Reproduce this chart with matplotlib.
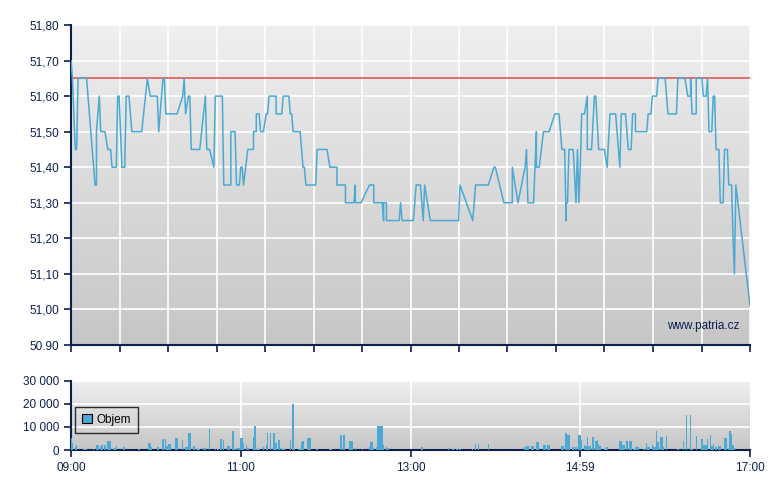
import matplotlib
matplotlib.use('Agg')
import matplotlib.pyplot as plt
import numpy as np
from matplotlib.colors import LinearSegmentedColormap

plt.rcParams['font.family'] = ['Liberation Sans', 'DejaVu Sans']

# ## Data: minutes after 09:00
price_t = [0, 1, 3, 4, 5, 11, 17, 18, 18, 20,
           21, 24, 26, 28, 29, 32, 33, 34, 36, 38,
           39, 41, 43, 50, 54, 56, 61, 62, 65, 66,
           67, 75, 79, 80, 81, 83, 84, 85, 91, 95,
           96, 98, 101, 102, 107, 108, 113, 113, 116, 117,
           119, 120, 121, 122, 125, 129, 129, 131, 131, 133,
           134, 136, 138, 139, 140, 145, 145, 149, 150, 154,
           155, 156, 157, 162, 164, 165, 166, 173, 174, 181,
           183, 188, 188, 194, 194, 200, 201, 201, 205, 211,
           214, 214, 220, 221, 221, 223, 223, 232, 233, 234,
           242, 244, 247, 249, 250, 254, 274, 275, 284, 286,
           295, 299, 300, 306, 312, 312, 316, 321, 322, 323,
           327, 329, 329, 331, 334, 338, 342, 345, 347, 349,
           350, 350, 351, 352, 355, 357, 358, 359, 360, 361,
           363, 365, 365, 368, 370, 371, 373, 377, 379, 381,
           385, 388, 389, 392, 394, 396, 397, 399, 399, 407,
           408, 410, 411, 414, 415, 420, 422, 428, 429, 434,
           436, 438, 438, 439, 442, 442, 446, 447, 449, 450,
           451, 453, 454, 455, 456, 458, 459, 461, 462, 464,
           465, 467, 468, 469, 470, 480]
price = [51.70, 51.65, 51.45, 51.45, 51.65, 51.65, 51.35, 51.35, 51.50, 51.60,
         51.50, 51.50, 51.45, 51.45, 51.40, 51.40, 51.60, 51.60, 51.40, 51.40,
         51.60, 51.60, 51.50, 51.50, 51.65, 51.60, 51.60, 51.50, 51.65, 51.65,
         51.55, 51.55, 51.60, 51.65, 51.55, 51.60, 51.60, 51.45, 51.45, 51.60,
         51.45, 51.45, 51.40, 51.60, 51.60, 51.35, 51.35, 51.50, 51.50, 51.35,
         51.35, 51.40, 51.40, 51.35, 51.45, 51.45, 51.50, 51.50, 51.55, 51.55,
         51.50, 51.50, 51.55, 51.55, 51.60, 51.60, 51.55, 51.55, 51.60, 51.60,
         51.55, 51.55, 51.50, 51.50, 51.40, 51.40, 51.35, 51.35, 51.45, 51.45,
         51.40, 51.40, 51.35, 51.35, 51.30, 51.30, 51.35, 51.30, 51.30, 51.35,
         51.35, 51.30, 51.30, 51.25, 51.30, 51.30, 51.25, 51.25, 51.30, 51.25,
         51.25, 51.35, 51.35, 51.25, 51.35, 51.25, 51.25, 51.35, 51.25, 51.35,
         51.35, 51.40, 51.40, 51.30, 51.30, 51.40, 51.30, 51.40, 51.45, 51.30,
         51.30, 51.50, 51.40, 51.40, 51.50, 51.50, 51.55, 51.55, 51.45, 51.45,
         51.25, 51.30, 51.30, 51.45, 51.45, 51.30, 51.45, 51.30, 51.40, 51.55,
         51.55, 51.60, 51.45, 51.45, 51.60, 51.60, 51.45, 51.45, 51.40, 51.55,
         51.55, 51.40, 51.55, 51.55, 51.45, 51.45, 51.55, 51.55, 51.50, 51.50,
         51.55, 51.55, 51.60, 51.60, 51.65, 51.65, 51.55, 51.55, 51.65, 51.65,
         51.60, 51.60, 51.65, 51.55, 51.55, 51.65, 51.65, 51.60, 51.60, 51.65,
         51.50, 51.50, 51.60, 51.60, 51.45, 51.45, 51.30, 51.30, 51.45, 51.45,
         51.35, 51.35, 51.20, 51.10, 51.35, 51.01]
prev_close = 51.65

vol_t = [0, 1, 3, 4, 9, 10, 11, 16, 18, 19,
         21, 22, 24, 26, 27, 28, 30, 31, 32, 37,
         38, 48, 55, 56, 57, 61, 62, 65, 67, 68,
         69, 70, 74, 75, 79, 81, 82, 83, 84, 87,
         89, 90, 91, 94, 95, 98, 102, 104, 106, 108,
         111, 112, 114, 115, 116, 118, 119, 120, 121, 122,
         124, 125, 129, 130, 131, 132, 133, 136, 138, 139,
         141, 143, 144, 145, 147, 149, 150, 151, 155, 157,
         158, 161, 162, 163, 164, 167, 168, 169, 174, 183,
         184, 191, 193, 197, 198, 199, 201, 206, 211, 212,
         213, 214, 216, 217, 218, 219, 220, 221, 223, 224,
         248, 267, 270, 273, 275, 284, 286, 288, 295, 321,
         322, 323, 326, 327, 329, 330, 334, 335, 337, 338,
         347, 348, 350, 351, 352, 355, 357, 359, 360, 361,
         363, 364, 365, 366, 367, 369, 371, 372, 373, 374,
         377, 378, 379, 388, 389, 390, 391, 393, 395, 396,
         398, 399, 400, 401, 405, 407, 408, 409, 411, 412,
         413, 414, 415, 417, 418, 419, 421, 429, 433, 435,
         438, 439, 442, 446, 447, 448, 449, 450, 452, 453,
         454, 456, 458, 459, 462, 463, 465, 466, 467, 468,
         469]
vol = [5000, 3200, 1100, 2200, 400, 400, 400, 400, 2200, 2200,
       1100, 2200, 2200, 3900, 3900, 3900, 400, 900, 1700, 1200,
       1200, 400, 3200, 2600, 1200, 1200, 1200, 4800, 4800, 1900,
       2600, 2600, 5200, 5200, 4300, 1200, 1200, 7400, 7400, 1600,
       400, 400, 400, 900, 900, 9100, 400, 400, 4800, 4300,
       1700, 1700, 8200, 8200, 400, 900, 900, 5200, 5200, 2900,
       2200, 900, 5800, 10400, 400, 400, 400, 1200, 2200, 7400,
       7400, 7400, 7400, 2900, 4300, 900, 400, 400, 4300, 20000,
       400, 400, 400, 3600, 4000, 5200, 5200, 5200, 400, 400,
       400, 6500, 6500, 4000, 4000, 4000, 900, 400, 1200, 3500,
       3500, 900, 1200, 10400, 10400, 10400, 10400, 2200, 1200, 900,
       1200, 700, 400, 400, 400, 400, 2600, 2600, 2600, 1200,
       1700, 1700, 1700, 1700, 3500, 3500, 2200, 2200, 2200, 2200,
       1700, 1700, 7400, 6500, 6500, 1200, 1200, 6500, 6500, 4300,
       2200, 1700, 5500, 1700, 1700, 5500, 3900, 4300, 2600, 1700,
       400, 400, 1200, 3900, 3900, 2200, 2200, 3900, 3900, 3900,
       400, 1200, 1200, 1200, 400, 3000, 1200, 1200, 2200, 1200,
       1200, 8300, 3600, 5500, 5500, 1200, 6100, 400, 3900, 15200,
       15200, 400, 6100, 4800, 2200, 2200, 2200, 4800, 6500, 1700,
       2600, 1200, 1700, 1700, 5200, 5200, 900, 8300, 7000, 2200,
       900]

price_ticks = [50.90, 51.00, 51.10, 51.20, 51.30, 51.40, 51.50, 51.60, 51.70, 51.80]
price_labels = ['50.90', '51,00', '51,10', '51,20', '51,30', '51,40',
                '51,50', '51,60', '51,70', '51,80']
vol_ticks = [0, 10000, 20000, 30000]
vol_labels = ['0', '10 000', '20 000', '30 000']
time_ticks = [0, 120, 240, 360, 480]
time_labels = ['09:00', '11:00', '13:00', '14:59', '17:00']

navy = '#0c1f4f'
blue = '#4ba9d4'
bg = LinearSegmentedColormap.from_list('bg', ['#c6c6c6', '#efefef'])


def style(ax):
    ax.imshow(np.linspace(0, 1, 256)[:, None], cmap=bg, aspect='auto',
              extent=(0, 1, 0, 1), origin='lower', transform=ax.transAxes, zorder=0)
    ax.set_axisbelow(True)
    for s in ['top', 'right']:
        ax.spines[s].set_visible(False)
    for s in ['left', 'bottom']:
        ax.spines[s].set_color(navy)
        ax.spines[s].set_linewidth(1.5)
    ax.tick_params(colors=navy, labelcolor=navy, labelsize=8.5, length=5, width=1.2)
    ax.set_xlim(0, 480)


fig = plt.figure(figsize=(7.8, 4.9), dpi=100)

# %% price chart
ax = fig.add_axes([71 / 780, 145 / 490, 679 / 780, 320 / 490])
style(ax)
ax.plot(price_t, price, color=blue, lw=1.1, zorder=3)
ax.axhline(prev_close, color='#e05858', lw=1.2, zorder=2)
ax.set_ylim(50.90, 51.80)
ax.set_yticks(price_ticks)
ax.set_yticklabels(price_labels)
ax.set_xticks(np.linspace(0, 480, 15))
ax.set_xticklabels([])
ax.grid(True, color='white', lw=1.2)
ax.text(0.985, 0.06, 'www.patria.cz', transform=ax.transAxes, ha='right',
        va='center', fontsize=8.5, color=navy)

# %% volume chart
ax2 = fig.add_axes([71 / 780, 40 / 490, 679 / 780, 69.3 / 490])
style(ax2)
ax2.bar(vol_t, vol, width=1.0, color=blue, lw=0, label='Objem', zorder=3)
ax2.set_ylim(0, 30000)
ax2.set_yticks(vol_ticks)
ax2.set_yticklabels(vol_labels)
ax2.set_xticks(time_ticks)
ax2.set_xticklabels(time_labels)
ax2.grid(True, axis='y', color='white', lw=1.2)
for t in time_ticks[1:-1]:
    ax2.axvline(t, color='white', lw=1.2, zorder=1)
leg = ax2.legend(loc='lower left', bbox_to_anchor=(0.006, 0.245), fontsize=8.5,
                 frameon=True, fancybox=False, handlelength=0.8, handleheight=0.8,
                 handletextpad=0.4, borderpad=0.6, borderaxespad=0)
frame = leg.get_frame()
frame.set_facecolor('none')
frame.set_edgecolor('black')
frame.set_linewidth(1.0)
for h in leg.legend_handles:
    h.set_edgecolor('black')
    h.set_linewidth(0.8)
for t in leg.get_texts():
    t.set_color('black')

fig.savefig('out.png', dpi=100)
